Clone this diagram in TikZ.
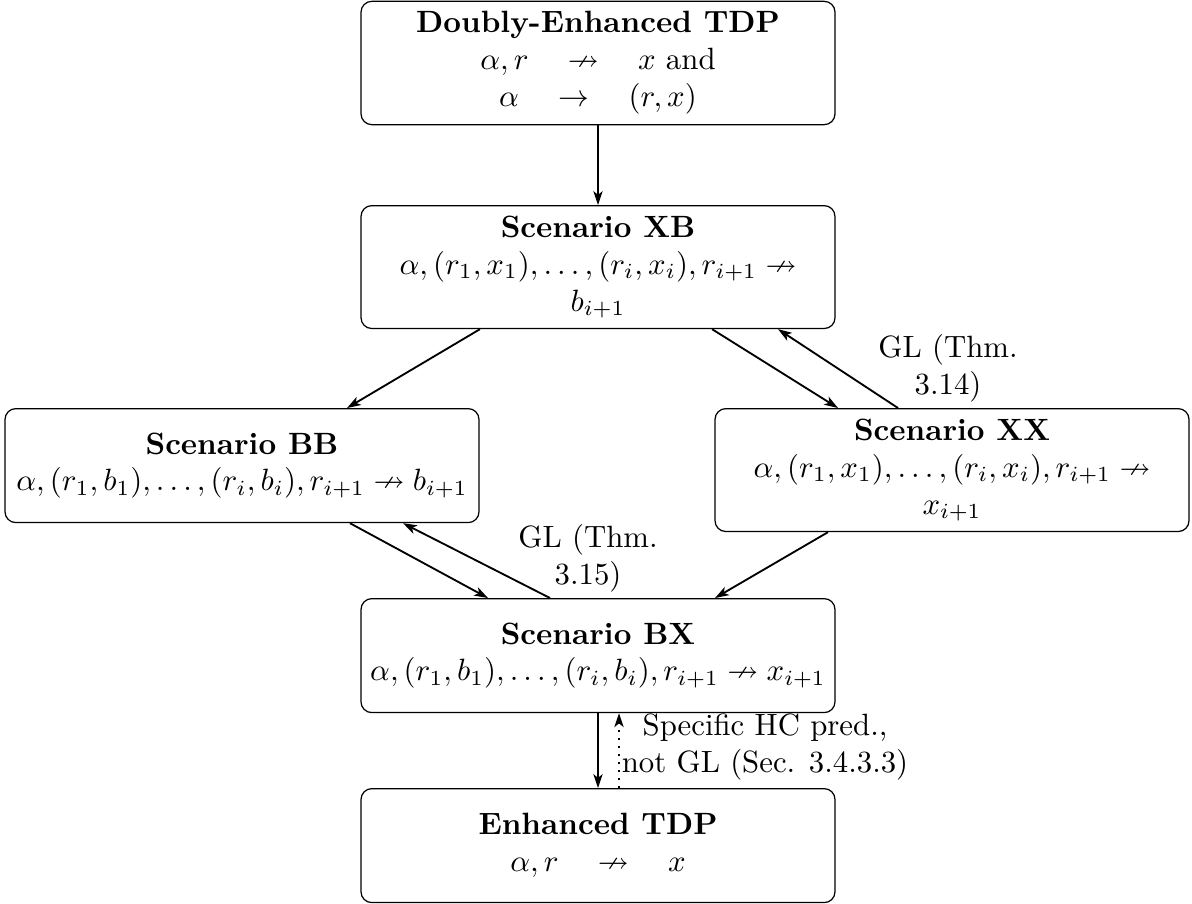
\documentclass[tikz,border=0pt]{standalone}
\usepackage{amssymb}
\usetikzlibrary{arrows.meta,calc}
\begin{document}
\begin{tikzpicture}[x=0.3247pt,y=-0.3247pt,
  box/.style={draw,rounded corners=3.5pt,align=center,minimum width=153.9pt,minimum height=37pt,inner xsep=1pt,inner ysep=3.3pt,anchor=north},
  conn/.style={semithick,-{Stealth[length=4.5pt,width=3pt,inset=1.2pt]}},
  lbl/.style={align=center,inner sep=0pt}]
\useasboundingbox (0,0) rectangle (1192,903);
\node[box] (top) at (598,0.7) {\textbf{Doubly-Enhanced TDP}\\ $\alpha, r \quad\nrightarrow\quad x$ and\\ $\alpha \quad\rightarrow\quad (r,x)$};
\node[box] (xb) at (598,205) {\textbf{Scenario XB}\\ $\alpha,(r_1,x_1),\ldots,(r_i,x_i),r_{i+1}\nrightarrow$\\ $b_{i+1}$};
\node[box] (bb) at (242,408) {\textbf{Scenario BB}\\ $\alpha,(r_1,b_1),\ldots,(r_i,b_i),r_{i+1}\nrightarrow b_{i+1}$};
\node[box] (xx) at (952,408) {\textbf{Scenario XX}\\ $\alpha,(r_1,x_1),\ldots,(r_i,x_i),r_{i+1}\nrightarrow$\\ $x_{i+1}$};
\node[box] (bx) at (598,598) {\textbf{Scenario BX}\\ $\alpha,(r_1,b_1),\ldots,(r_i,b_i),r_{i+1}\nrightarrow x_{i+1}$};
\node[box] (enh) at (598,788) {\textbf{Enhanced TDP}\\ $\alpha, r \quad\nrightarrow\quad x$};
\draw[conn] (top.south) -- (xb.north);
\draw[conn] ($(xb.south)+(-118,0)$) -- ($(bb.north)+(105,0)$);
\draw[conn] ($(xb.south)+(114,0)$) -- ($(xx.north)+(-114,0)$);
\draw[conn] ($(xx.north)+(-54,0)$) -- ($(xb.south)+(180,0)$);
\draw[conn] ($(bb.south)+(108,0)$) -- ($(bx.north)+(-110,0)$);
\draw[conn] ($(bx.north)+(-48,0)$) -- ($(bb.south)+(161,0)$);
\draw[conn] ($(xx.south)+(-124,0)$) -- ($(bx.north)+(117,0)$);
\draw[conn] (bx.south) -- (enh.north);
\draw[conn,dotted] ($(enh.north)+(21,0)$) -- ($(bx.south)+(21,0)$);
\node[lbl] (gl14) at (948,368) {GL (Thm.\\ 3.14)};
\node[lbl] (gl15) at (588,558) {GL (Thm.\\ 3.15)};
\node[lbl] (hc) at (765,747) {Specific HC pred.,\\ not GL (Sec. 3.4.3.3)};
\end{tikzpicture}
\end{document}
